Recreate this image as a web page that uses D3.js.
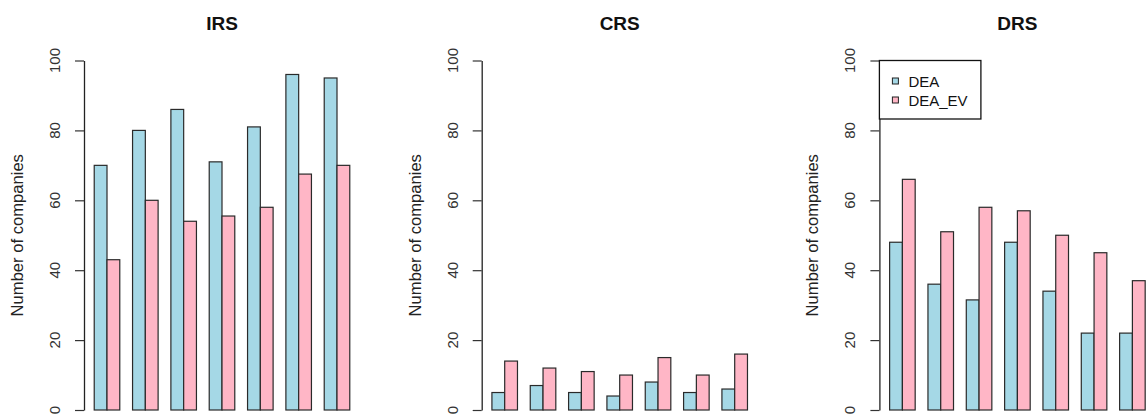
<!DOCTYPE html>
<html>
<head>
    <title>Returns to scale - DEA vs DEA_EV</title>
    <style>
        body {
            margin: 0;
            background-color: white;
            font-family: "Liberation Sans", Arial, sans-serif;
        }
        .title {
            font-size: 19px;
            font-weight: bold;
            fill: #111;
            text-anchor: middle;
        }
        .tick-label {
            font-size: 15px;
            fill: #333;
            text-anchor: middle;
        }
        .y-label {
            font-size: 16.6px;
            fill: #222;
            text-anchor: middle;
        }
        .legend-text {
            font-size: 15px;
            fill: #111;
        }
        .bar {
            stroke: #2a2a2a;
            stroke-width: 1.2;
        }
    </style>
</head>
<body>
    <svg id="chart" width="1146" height="414"></svg>

    <script src="https://cdnjs.cloudflare.com/ajax/libs/d3/7.8.5/d3.min.js"></script>
    <script>
        // Data (7 groups per panel)
        const panels = ['IRS', 'CRS', 'DRS'];
        const series = ['DEA', 'DEA_EV'];
        const groups = ['1', '2', '3', '4', '5', '6', '7'];
        const yTicks = [0, 20, 40, 60, 80, 100];

        const irsDEA   = [70, 80, 86, 71, 81, 96, 95];
        const irsDEAEV = [43, 60, 54, 55.5, 58, 67.5, 70];
        const crsDEA   = [5, 7, 5, 4, 8, 5, 6];
        const crsDEAEV = [14, 12, 11, 10, 15, 10, 16];
        const drsDEA   = [48, 36, 31.5, 48, 34, 22, 22];
        const drsDEAEV = [66, 51, 58, 57, 50, 45, 37];

        const panelData = [
            [irsDEA, irsDEAEV],
            [crsDEA, crsDEAEV],
            [drsDEA, drsDEAEV]
        ];

        const colors = ['#a5d8e6', '#ffb6c6'];

        const svg = d3.select('#chart');

        const axisX0 = 84;      // y axis of first panel
        const panelStep = 397.7; // distance between panels
        const plotW = 276;
        const yTop = 60.5, yBottom = 410;

        const y = d3.scaleLinear().domain([0, 100]).range([yBottom, yTop]);

        panels.forEach((name, p) => {
            const left = axisX0 + p * panelStep;
            const g = svg.append('g');

            // group bands: 2 bars wide, 1 bar gap, like barplot(beside=TRUE)
            const x0 = d3.scaleBand()
                .domain(groups)
                .range([left, left + plotW])
                .paddingInner(1 / 3)
                .paddingOuter(0.8 / 3);
            const x1 = d3.scaleBand()
                .domain(series)
                .range([0, x0.bandwidth()]);

            const rows = groups.map((grp, i) => ({
                grp: grp,
                vals: series.map((s, k) => ({ s: s, k: k, v: panelData[p][k][i] }))
            }));

            g.selectAll('.grp')
                .data(rows)
                .enter()
                .append('g')
                .attr('transform', d => `translate(${x0(d.grp)},0)`)
                .selectAll('rect')
                .data(d => d.vals)
                .enter()
                .append('rect')
                .attr('class', 'bar')
                .attr('x', d => x1(d.s))
                .attr('y', d => y(d.v))
                .attr('width', x1.bandwidth())
                .attr('height', d => y(0) - y(d.v))
                .attr('fill', d => colors[d.k]);

            // y axis (R style: vertical tick labels)
            const axis = g.append('g')
                .attr('transform', `translate(${left},0)`)
                .call(d3.axisLeft(y).tickValues(yTicks).tickSize(9).tickSizeOuter(0).tickFormat(''));
            axis.select('.domain').attr('stroke', '#222').attr('stroke-width', 1.3);
            axis.selectAll('.tick line').attr('stroke', '#333').attr('stroke-width', 1.2);

            g.selectAll('.tick-label')
                .data(yTicks)
                .enter()
                .append('text')
                .attr('class', 'tick-label')
                .attr('transform', d => `translate(${left - 24},${y(d)}) rotate(-90)`)
                .text(d => d);

            g.append('text')
                .attr('class', 'y-label')
                .attr('transform', `translate(${left - 61},${(yTop + yBottom) / 2}) rotate(-90)`)
                .text('Number of companies');

            g.append('text')
                .attr('class', 'title')
                .attr('x', left + plotW / 2)
                .attr('y', 30)
                .text(name);

            // legend only in the last panel
            if (p === 2) {
                const lg = g.append('g');
                lg.append('rect')
                    .attr('x', left)
                    .attr('y', yTop)
                    .attr('width', 101.5)
                    .attr('height', 58.5)
                    .attr('fill', 'white')
                    .attr('stroke', '#111')
                    .attr('stroke-width', 1.3);
                series.forEach((s, k) => {
                    const ly = yTop + 20.5 + k * 19;
                    lg.append('rect')
                        .attr('x', left + 13)
                        .attr('y', ly - 3)
                        .attr('width', 6)
                        .attr('height', 6)
                        .attr('fill', colors[k])
                        .attr('stroke', '#222')
                        .attr('stroke-width', 1);
                    lg.append('text')
                        .attr('class', 'legend-text')
                        .attr('x', left + 29)
                        .attr('y', ly + 5.5)
                        .text(s);
                });
            }
        });
    </script>
</body>
</html>
